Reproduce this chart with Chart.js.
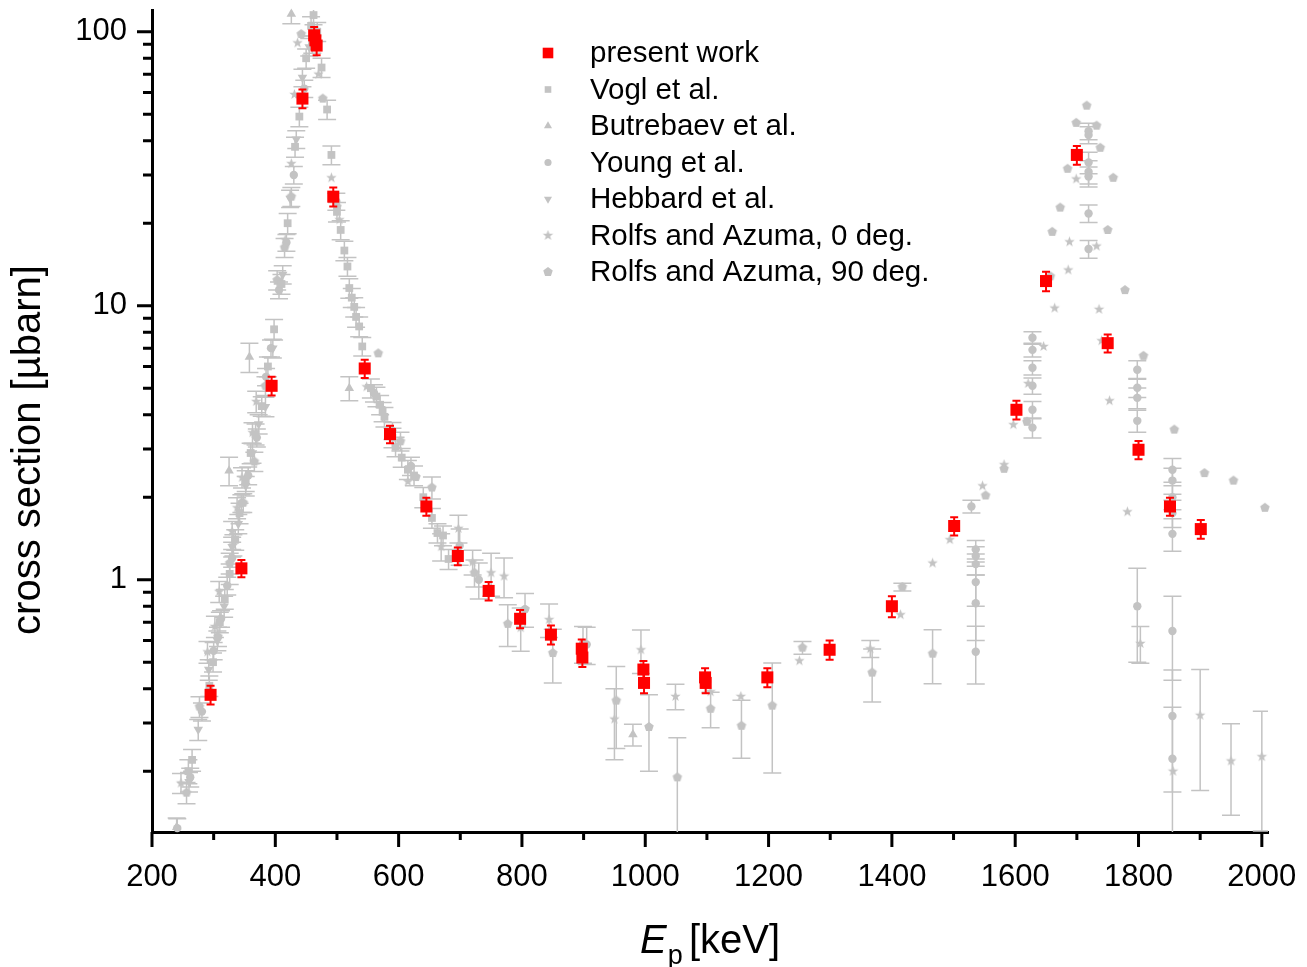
<!DOCTYPE html>
<html>
<head>
<meta charset="utf-8">
<script src="https://cdn.jsdelivr.net/npm/chart.js@4/dist/chart.umd.min.js"></script>
<style>
  body { margin: 0; background: #fff; }
  #wrap { width: 1307px; height: 967px; }
</style>
</head>
<body>
<div id="wrap"><canvas id="xsChart" width="1307" height="967"></canvas></div>
<script>
// Axis ticks
const xMajor = [200, 400, 600, 800, 1000, 1200, 1400, 1600, 1800, 2000];
const xMinor = [300, 500, 700, 900, 1100, 1300, 1500, 1700, 1900];
const yMajor = [1, 10, 100];
const yMinor = [0.2, 0.3, 0.4, 0.5, 0.6, 0.7, 0.8, 0.9, 2, 3, 4, 5, 6, 7, 8, 9, 20, 30, 40, 50, 60, 70, 80, 90];

// present work
const presentE = [295, 345, 394, 444, 463, 465, 467, 494, 545, 586, 645, 696, 746, 797, 847, 897, 898, 997, 998, 1097, 1098, 1198, 1299, 1400, 1501, 1602, 1650, 1700, 1750, 1800, 1851, 1901];
const presentY = [0.38, 1.10, 5.1, 57, 97, 93, 89, 25, 5.9, 3.4, 1.85, 1.22, 0.91, 0.72, 0.63, 0.56, 0.52, 0.47, 0.42, 0.44, 0.42, 0.44, 0.555, 0.80, 1.57, 4.17, 12.3, 35.5, 7.3, 2.98, 1.85, 1.53];
const presentErr = [0.03, 0.08, 0.4, 4.5, 7, 7, 7, 2, 0.45, 0.25, 0.14, 0.09, 0.07, 0.055, 0.05, 0.045, 0.04, 0.035, 0.035, 0.035, 0.035, 0.035, 0.045, 0.07, 0.12, 0.33, 1.0, 2.8, 0.55, 0.23, 0.14, 0.12];

// Vogl et al.
const voglE = [259, 265, 293, 299, 310, 318, 326, 335, 342, 352, 360, 368, 378, 388, 398, 410, 420, 432, 439, 450, 458, 462, 468, 475, 484, 491, 500, 506, 512, 517, 520, 524, 528, 531, 536, 541, 555, 564, 570, 574, 577, 590, 595, 605, 615, 625, 640, 654, 663, 672, 681];
const voglY = [0.2, 0.22, 0.41, 0.5, 0.7, 0.85, 1.05, 1.4, 1.75, 2.3, 2.9, 3.4, 4.3, 6.0, 8.2, 12, 20, 38, 49, 80, 105, 115, 100, 74, 52, 35.5, 22, 18.9, 15.9, 13.9, 11.6, 10.7, 9.9, 9.1, 8.4, 7.1, 5.0, 4.66, 4.35, 4.1, 3.93, 3.3, 3.06, 2.79, 2.52, 2.4, 2.0, 1.68, 1.48, 1.45, 1.19];
const voglErr = [0.02, 0.02, 0.035, 0.04, 0.06, 0.07, 0.09, 0.12, 0.15, 0.2, 0.25, 0.3, 0.35, 0.5, 0.7, 1.0, 1.7, 3.2, 4, 6.5, 8.5, 9, 8, 6, 4.2, 2.8, 1.8, 1.5, 1.3, 1.1, 0.95, 0.85, 0.8, 0.75, 0.7, 0.55, 0.4, 0.38, 0.35, 0.33, 0.32, 0.27, 0.25, 0.22, 0.2, 0.2, 0.17, 0.14, 0.12, 0.12, 0.1];

// Butrebaev et al.
const butE = [240, 325, 358, 426, 520, 980];
const butY = [0.125, 2.5, 6.5, 116, 5.0, 0.272];
const butErr = [0.01, 0.3, 0.8, 9, 0.5, 0.025];

// Young et al.
const youngE = [241, 262, 281, 300, 312, 322, 330, 345, 356, 370, 385, 393, 406, 418, 430, 447, 460, 499, 560, 590, 620, 699, 730, 805, 899, 905, 1529, 1536, 1536, 1536, 1536, 1536, 1536, 1628, 1628, 1628, 1628, 1628, 1628, 1719, 1719, 1719, 1719, 1719, 1719, 1719, 1798, 1798, 1798, 1798, 1798, 1855, 1855, 1855, 1855, 1855, 1855, 1855, 1855];
const youngY = [0.124, 0.19, 0.33, 0.55, 0.72, 0.95, 1.2, 1.9, 2.4, 3.3, 5.5, 7.0, 11.4, 17, 30, 62, 90, 24, 4.8, 3.5, 2.6, 1.33, 1.0, 0.78, 0.585, 0.58, 1.85, 1.29, 1.22, 1.14, 0.98, 0.82, 0.546, 7.64, 6.9, 5.94, 5.1, 4.17, 3.59, 43.3, 42, 33.3, 30.8, 29.6, 21.7, 16.1, 5.84, 5.02, 4.61, 3.8, 0.8, 2.52, 2.3, 2.0, 1.75, 1.47, 0.65, 0.318, 0.222];
const youngErr = [0.01, 0.015, 0.025, 0.04, 0.05, 0.07, 0.09, 0.14, 0.18, 0.25, 0.4, 0.5, 0.8, 1.2, 2.2, 4.5, 6.5, 1.7, 0.35, 0.25, 0.2, 0.2, 0.15, 0.11, 0.09, 0.09, 0.1, 0.1, 0.1, 0.1, 0.18, 0.22, 0.13, 0.4, 0.4, 0.35, 0.35, 0.3, 0.3, 3, 3, 3, 3, 2.5, 1.6, 1.2, 0.45, 0.4, 0.4, 0.35, 0.3, 0.25, 0.25, 0.2, 0.2, 0.2, 0.22, 0.15, 0.12];

// Hebbard et al.
const hebE = [260, 275, 292, 306, 317, 330, 340, 352, 363, 373, 384, 396, 412, 424, 434, 444, 455];
const hebY = [0.183, 0.284, 0.47, 0.6, 0.8, 1.32, 1.6, 2.2, 2.9, 3.7, 4.28, 7.0, 13, 24.6, 40.5, 68, 88];
const hebErr = [0.015, 0.025, 0.04, 0.05, 0.07, 0.11, 0.13, 0.18, 0.24, 0.3, 0.35, 0.55, 1.0, 1.8, 3, 5, 6.5];

// Rolfs and Azuma, 0 deg.
const r0E = [247, 290, 302, 309, 330, 332, 338, 346, 363, 369, 416, 426, 431, 436, 470, 491, 504, 548, 615, 669, 697, 720, 750, 771, 798, 844, 950, 993, 1049, 1106, 1155, 1250, 1365, 1414, 1466, 1494, 1547, 1582, 1597, 1621, 1646, 1664, 1686, 1688, 1699, 1732, 1736, 1740, 1753, 1782, 1803, 1856, 1900, 1950, 2000];
const r0Y = [0.181, 0.545, 0.675, 0.905, 1.5, 1.34, 1.83, 2.36, 3.44, 4.47, 17.4, 33, 59, 91, 70, 29.3, 20.6, 5.06, 2.28, 1.32, 1.54, 1.16, 1.06, 1.03, 0.668, 0.715, 0.31, 0.555, 0.375, 0.39, 0.375, 0.506, 0.56, 0.745, 1.15, 1.40, 2.2, 2.63, 3.68, 5.2, 7.1, 9.8, 13.5, 17.1, 29, 16.5, 9.7, 7.45, 4.5, 1.77, 0.585, 0.2, 0.32, 0.218, 0.226];
const r0Err = [0.015, 0.05, 0.06, 0.08, 0.13, 0.12, 0.16, 0.2, 0.3, 0.4, 0, 0, 0, 0, 0, 0, 0, 0, 0, 0.15, 0.18, 0.12, 0.19, 0.17, 0.12, 0.1, 0.09, 0.1, 0.04, 0, 0, 0, 0.04, 0, 0, 0, 0, 0, 0, 0, 0, 0, 0, 0, 0, 0, 0, 0, 0, 0, 0.09, 0, 0.15, 0.08, 0.105];

// Rolfs and Azuma, 90 deg.
const r90E = [256, 277, 307, 326, 348, 366, 384, 403, 415, 426, 442, 477, 500, 567, 603, 628, 654, 723, 777, 850, 953, 1006, 1052, 1106, 1156, 1206, 1255, 1368, 1417, 1466, 1552, 1582, 1619, 1657, 1660, 1673, 1685, 1699, 1716, 1732, 1738, 1750, 1759, 1778, 1808, 1858, 1907, 1954, 2005];
const r90Y = [0.167, 0.344, 0.62, 1.15, 1.91, 2.7, 5.1, 12.4, 16.3, 25, 98, 57, 23, 6.7, 3.2, 2.37, 2.17, 1.06, 0.69, 0.54, 0.362, 0.29, 0.19, 0.338, 0.293, 0.347, 0.565, 0.458, 0.94, 0.537, 2.03, 2.54, 3.77, 12.8, 18.6, 22.8, 31.6, 46.5, 53.7, 45.4, 37.7, 18.9, 29.3, 11.4, 6.56, 3.53, 2.45, 2.3, 1.83];
const r90Err = [0.015, 0.03, 0.05, 0.1, 0.15, 0.22, 0.4, 1.0, 1.3, 2, 0, 0, 0, 0, 0.25, 0, 0.2, 0.12, 0.12, 0.12, 0.12, 0.09, 0.075, 0.05, 0.07, 0.15, 0.03, 0.1, 0.03, 0.12, 0, 0, 0, 0, 0, 0, 0, 0, 0, 0, 0, 0, 0, 0, 0, 0, 0, 0, 0];

const GREY = '#c3c3c3';
const RED = '#ff0000';
const FONT = "'Liberation Sans', Arial, sans-serif";

// filled marker shapes Chart.js doesn't have
function polygonMarker(outer, inner, n, color) {
    const size = Math.ceil(outer * 2) + 2;
    const c = document.createElement('canvas');
    c.width = size; c.height = size;
    const g = c.getContext('2d');
    g.fillStyle = color;
    g.beginPath();
    const steps = inner ? n * 2 : n;
    for (let i = 0; i < steps; i++) {
        const r = inner && i % 2 ? inner : outer;
        const a = -Math.PI / 2 + i * 2 * Math.PI / steps;
        const px = size / 2 + r * Math.cos(a), py = size / 2 + r * Math.sin(a);
        i ? g.lineTo(px, py) : g.moveTo(px, py);
    }
    g.closePath();
    g.fill();
    return c;
}
const pentagon = polygonMarker(5, 0, 5, GREY);
const star = polygonMarker(5.5, 2.3, 5, GREY);

const pts = (E, Y) => E.map((e, i) => ({ x: e, y: Y[i] }));

function series(label, E, Y, err, style, extra) {
    return Object.assign({
        label: label,
        data: pts(E, Y),
        err: err,
        pointStyle: style,
        backgroundColor: GREY,
        pointBorderWidth: 0,
        borderWidth: 0,
        showLine: false,
        clip: false,
        barColor: GREY,
        barWidth: 1.5,
        capHalf: 9
    }, extra || {});
}

const datasets = [
    series('present work', presentE, presentY, presentErr, 'rect', { backgroundColor: RED, barColor: RED, barWidth: 2, capHalf: 4, pointRadius: 8.5 }),
    series('Vogl et al.', voglE, voglY, voglErr, 'rect', { pointRadius: 5.5 }),
    series('Butrebaev et al.', butE, butY, butErr, 'triangle', { pointRadius: 5.5 }),
    series('Young et al.', youngE, youngY, youngErr, 'circle', { pointRadius: 4.2 }),
    series('Hebbard et al.', hebE, hebY, hebErr, 'triangle', { pointRadius: 5.5, pointRotation: 180 }),
    series('Rolfs and Azuma, 0 deg.', r0E, r0Y, r0Err, star, { pointRadius: 5 }),
    series('Rolfs and Azuma, 90 deg.', r90E, r90Y, r90Err, pentagon, { pointRadius: 5 })
];

// error bars drawn under each dataset's own markers
const errorBars = {
    id: 'errorBars',
    beforeDatasetDraw(chart, args) {
        const ds = chart.data.datasets[args.index];
        if (!ds.err) return;
        const { ctx, chartArea: a, scales: { x, y } } = chart;
        ctx.save();
        ctx.beginPath();
        ctx.rect(a.left, a.top, a.right - a.left, a.bottom - a.top);
        ctx.clip();
        ctx.strokeStyle = ds.barColor;
        ctx.lineWidth = ds.barWidth;
        ds.data.forEach((p, i) => {
            const e = ds.err[i];
            if (!e) return;
            const px = x.getPixelForValue(p.x);
            const top = y.getPixelForValue(p.y + e);
            const lo = p.y - e;
            const bot = lo > 0 ? y.getPixelForValue(lo) : a.bottom + 5;
            ctx.beginPath();
            ctx.moveTo(px, top); ctx.lineTo(px, bot);
            ctx.moveTo(px - ds.capHalf, top); ctx.lineTo(px + ds.capHalf, top);
            ctx.moveTo(px - ds.capHalf, bot); ctx.lineTo(px + ds.capHalf, bot);
            ctx.stroke();
        });
        ctx.restore();
    }
};

// tick marks, axis titles and the legend
const decorations = {
    id: 'decorations',
    afterDraw(chart) {
        const { ctx, chartArea: a, scales: { x, y } } = chart;
        ctx.save();
        ctx.strokeStyle = '#000';
        ctx.lineWidth = 3;
        ctx.beginPath();
        xMajor.forEach(v => { const p = x.getPixelForValue(v); ctx.moveTo(p, a.bottom); ctx.lineTo(p, a.bottom + 15); });
        xMinor.forEach(v => { const p = x.getPixelForValue(v); ctx.moveTo(p, a.bottom); ctx.lineTo(p, a.bottom + 8); });
        yMajor.forEach(v => { const p = y.getPixelForValue(v); ctx.moveTo(a.left, p); ctx.lineTo(a.left - 15, p); });
        yMinor.forEach(v => { const p = y.getPixelForValue(v); ctx.moveTo(a.left, p); ctx.lineTo(a.left - 9, p); });
        ctx.stroke();

        ctx.fillStyle = '#000';
        // y title
        ctx.save();
        ctx.translate(29, 450);
        ctx.rotate(-Math.PI / 2);
        ctx.font = '40px ' + FONT;
        ctx.textAlign = 'center';
        ctx.textBaseline = 'middle';
        ctx.fillText('cross section [\u00b5barn]', 0, 0);
        ctx.restore();

        // x title: E_p [keV]
        ctx.textAlign = 'left';
        ctx.textBaseline = 'alphabetic';
        ctx.font = 'italic 40px ' + FONT;
        ctx.fillText('E', 640, 953);
        const wE = ctx.measureText('E').width;
        ctx.font = '27px ' + FONT;
        ctx.fillText('p', 640 + wE + 1, 964);
        ctx.font = '40px ' + FONT;
        ctx.fillText('[keV]', 689, 953);

        // legend
        ctx.font = '29.5px ' + FONT;
        ctx.textBaseline = 'middle';
        chart.data.datasets.forEach((ds, i) => {
            const ly = 53 + i * 36.5;
            ctx.fillStyle = ds.backgroundColor;
            Chart.helpers.drawPoint(ctx, {
                pointStyle: ds.pointStyle,
                radius: i === 0 ? 7.5 : ds.pointRadius * 0.85,
                rotation: ds.pointRotation || 0,
                borderWidth: 0
            }, 548, ly);
            ctx.fillStyle = '#000';
            ctx.fillText(ds.label, 590, ly + 1);
        });
        ctx.restore();
    }
};

// pin the plot area: no extra margins for end labels
function noPad(s) {
    s.paddingTop = 0; s.paddingBottom = 0; s.paddingLeft = 0; s.paddingRight = 0;
}

Chart.defaults.font.family = FONT;
Chart.defaults.color = '#000';

new Chart(document.getElementById('xsChart'), {
    type: 'scatter',
    data: { datasets: datasets },
    options: {
        responsive: false,
        animation: false,
        layout: { padding: { top: 10, right: 39, left: 0, bottom: 0 } },
        plugins: { legend: { display: false }, tooltip: { enabled: false } },
        scales: {
            x: {
                type: 'linear',
                min: 200,
                max: 2010,
                grid: { display: false, drawTicks: false },
                border: { display: true, color: '#000', width: 3 },
                afterBuildTicks: s => { s.ticks = xMajor.map(v => ({ value: v })); },
                afterFit: s => { s.height = 135; noPad(s); },
                ticks: { autoSkip: false, maxRotation: 0, padding: 27, font: { size: 31 }, color: '#000', callback: v => String(v) }
            },
            y: {
                type: 'logarithmic',
                min: 0.12,
                max: 120,
                grid: { display: false, drawTicks: false },
                border: { display: true, color: '#000', width: 3 },
                afterBuildTicks: s => { s.ticks = yMajor.map(v => ({ value: v })); },
                afterFit: s => { s.width = 152; noPad(s); },
                ticks: { autoSkip: false, padding: 25, font: { size: 31 }, color: '#000', callback: v => String(v) }
            }
        }
    },
    plugins: [errorBars, decorations]
});
</script>
</body>
</html>
